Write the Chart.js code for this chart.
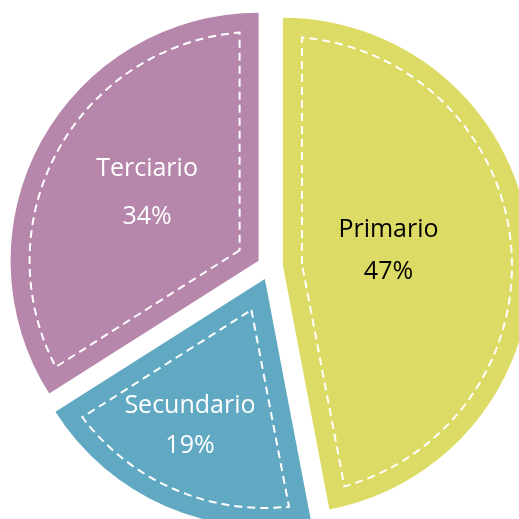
<!DOCTYPE html>
<html>
<head>
<meta charset="utf-8">
<script src="https://cdn.jsdelivr.net/npm/chart.js@4.4.0/dist/chart.umd.min.js"></script>
<style>
    html, body { margin: 0; padding: 0; background: #ffffff; overflow: hidden; width: 519px; height: 519px; }
    #contenedor { position: absolute; left: 0; top: 0; width: 540px; height: 534px; }
</style>
</head>
<body>
<div id="contenedor"><canvas id="grafico-sectores"></canvas></div>
<script>
// Datos del gráfico
const sectores = ['Primario', 'Secundario', 'Terciario'];
const porcentajes = [47, 19, 34];
const colores = ['#DCDB65', '#61A8C3', '#B687AB'];
const coloresTexto = ['#000000', '#ffffff', '#ffffff'];

// Ajustes de dibujo (separación, línea punteada, etiquetas)
const SEPARACION = 13;
const MARGEN_PUNTEADO = 19;
const etiquetaRadio = [0.43, 0.665, 0.527];
const etiquetaGiro = [-2.8, 3.6, 2.6];
const etiquetaInterlinea = [42, 40, 48];

// Plugin para dibujar los sectores separados, el borde punteado y los textos
const pluginSectores = {
    id: 'sectoresSeparados',
    beforeDatasetsDraw(chart) {
        const ctx = chart.ctx;
        const meta = chart.getDatasetMeta(0);
        meta.data.forEach((arco, i) => {
            const p = arco.getProps(['x', 'y', 'startAngle', 'endAngle', 'outerRadius'], true);
            const medio = (p.startAngle + p.endAngle) / 2;
            const dx = Math.cos(medio) * SEPARACION;
            const dy = Math.sin(medio) * SEPARACION;

            // sector
            ctx.save();
            ctx.translate(dx, dy);
            arco.draw(ctx);
            ctx.restore();

            // borde interior punteado
            const cx = p.x + dx;
            const cy = p.y + dy;
            const d = MARGEN_PUNTEADO;
            const r2 = p.outerRadius - d;
            const delta = Math.asin(d / r2);
            const distVertice = d / Math.sin((p.endAngle - p.startAngle) / 2);
            ctx.save();
            ctx.beginPath();
            ctx.moveTo(cx + Math.cos(medio) * distVertice, cy + Math.sin(medio) * distVertice);
            ctx.lineTo(cx + Math.cos(p.startAngle + delta) * r2, cy + Math.sin(p.startAngle + delta) * r2);
            ctx.arc(cx, cy, r2, p.startAngle + delta, p.endAngle - delta);
            ctx.closePath();
            ctx.setLineDash([8, 5]);
            ctx.lineWidth = 2;
            ctx.strokeStyle = '#ffffff';
            ctx.stroke();
            ctx.restore();

            // etiquetas
            const ang = medio + etiquetaGiro[i] * Math.PI / 180;
            const rad = p.outerRadius * etiquetaRadio[i];
            const tx = cx + Math.cos(ang) * rad;
            const ty = cy + Math.sin(ang) * rad;
            const h = etiquetaInterlinea[i] / 2;
            ctx.save();
            ctx.fillStyle = coloresTexto[i];
            ctx.font = '25px "Open Sans", sans-serif';
            ctx.textAlign = 'center';
            ctx.textBaseline = 'middle';
            ctx.fillText(sectores[i], tx, ty - h);
            ctx.fillText(porcentajes[i] + '%', tx, ty + h);
            ctx.restore();
        });
        return false;
    }
};

const graficoSectores = new Chart(document.getElementById('grafico-sectores'), {
    type: 'pie',
    data: {
        labels: sectores,
        datasets: [{
            data: porcentajes,
            backgroundColor: colores,
            borderWidth: 0
        }]
    },
    options: {
        responsive: true,
        maintainAspectRatio: false,
        animation: false,
        radius: 248,
        layout: { padding: 0 },
        plugins: {
            legend: { display: false },
            tooltip: { enabled: false },
            title: { display: false }
        }
    },
    plugins: [pluginSectores]
});
</script>
</body>
</html>
